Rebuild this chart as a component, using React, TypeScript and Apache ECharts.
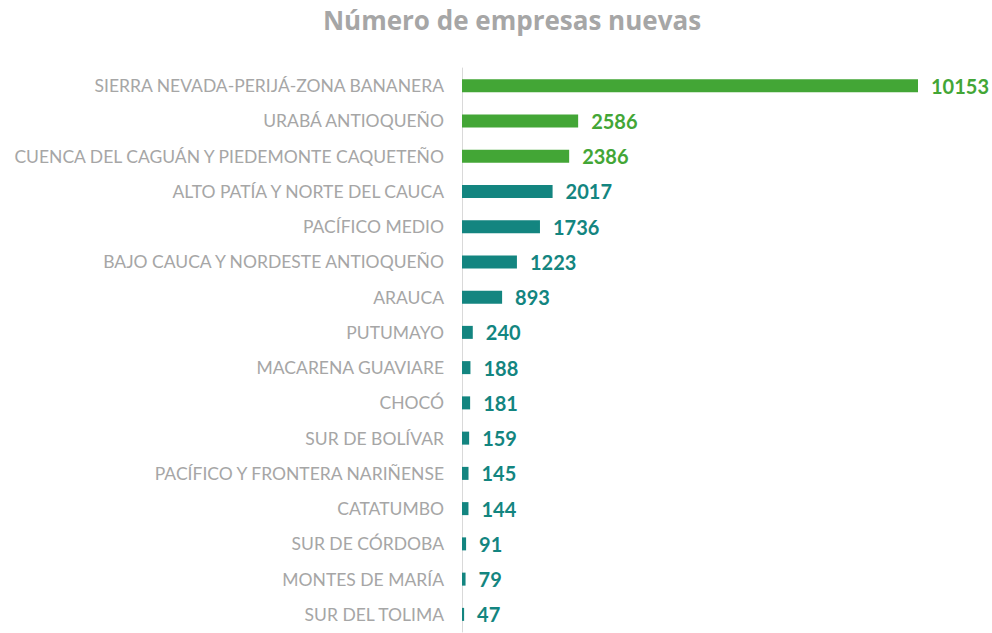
import React, { useEffect, useRef } from "react";
import * as echarts from "echarts";

const categories = [
  "SIERRA NEVADA-PERIJÁ-ZONA BANANERA",
  "URABÁ ANTIOQUEÑO",
  "CUENCA DEL CAGUÁN Y PIEDEMONTE CAQUETEÑO",
  "ALTO PATÍA Y NORTE DEL CAUCA",
  "PACÍFICO MEDIO",
  "BAJO CAUCA Y NORDESTE ANTIOQUEÑO",
  "ARAUCA",
  "PUTUMAYO",
  "MACARENA GUAVIARE",
  "CHOCÓ",
  "SUR DE BOLÍVAR",
  "PACÍFICO Y FRONTERA NARIÑENSE",
  "CATATUMBO",
  "SUR DE CÓRDOBA",
  "MONTES DE MARÍA",
  "SUR DEL TOLIMA",
];
const values = [10153, 2586, 2386, 2017, 1736, 1223, 893, 240, 188, 181, 159, 145, 144, 91, 79, 47];
const highlighted = [true, true, true, false, false, false, false, false, false, false, false, false, false, false, false, false];

const GREEN = "#43A636";
const TEAL = "#138580";

export default function App() {
  const ref = useRef<HTMLDivElement>(null);
  useEffect(() => {
    const chart = echarts.init(ref.current!, null, { renderer: "svg" });
    chart.setOption({
      animation: false,
      backgroundColor: "#ffffff",
      title: {
        text: "Número de empresas nuevas",
        left: 512,
        textAlign: "center",
        top: 7,
        padding: 0,
        textStyle: {
          color: "#A6A6A6",
          fontSize: 26,
          fontWeight: "bold",
          fontFamily: "Open Sans",
        },
      },
      grid: { left: 462, right: 74, top: 68, height: 564 },
      xAxis: {
        type: "value",
        min: 0,
        max: 10153,
        show: false,
      },
      yAxis: {
        type: "category",
        inverse: true,
        data: categories,
        axisLine: { show: true, lineStyle: { color: "#D9D9D9", width: 1 } },
        axisTick: { show: false },
        axisLabel: {
          color: "#A6A6A6",
          fontSize: 17.5,
          fontFamily: "Lato",
          margin: 18,
        },
      },
      series: [
        {
          type: "bar",
          barWidth: 13,
          data: values.map((v, i) => ({
            value: v,
            itemStyle: { color: highlighted[i] ? GREEN : TEAL },
            label: { color: highlighted[i] ? GREEN : TEAL },
          })),
          label: {
            show: true,
            position: "right",
            distance: 13,
            fontSize: 20,
            fontWeight: "bold",
            fontFamily: "Lato",
          },
        },
      ],
    });
    return () => chart.dispose();
  }, []);
  return <div ref={ref} style={{ width: 992, height: 633, position: "absolute", left: 0, top: 0 }} />;
}
